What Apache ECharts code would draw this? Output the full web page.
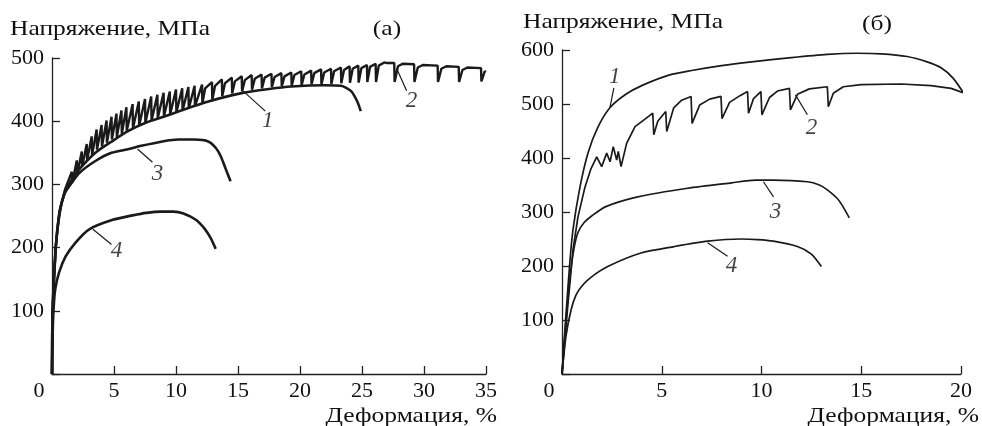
<!DOCTYPE html>
<html>
<head>
<meta charset="utf-8">
<script src="https://cdn.jsdelivr.net/npm/echarts@6/dist/echarts.min.js"></script>
<style>
html, body { margin: 0; background: #fff; }
#chart { width: 982px; height: 426px; }
</style>
</head>
<body>
<div id="chart"></div>
<script>
// (а) кривые: деформация, %  /  напряжение, МПа
var leftCurve1 = [[0,0],[0.05,100],[0.3,200],[0.6,255],[1.05,288],[1.6,308],[2.2,324],[3.5,350],[4.9,369],[6.2,385],[7.6,398],[9,407],[10.3,416],[12.4,430],[15.2,444],[17.5,451],[19.3,455],[22,457],[23.3,456],[24.1,448],[24.6,432],[24.9,416]];
var leftCurve2 = [[0,0],[0.05,100],[0.3,200],[0.6,258],[1.05,292],
	[1.6,320],[1.63,302],[2.0,338],[2.03,316],[2.4,352],[2.43,328],[2.8,364],[2.83,338],[3.2,376],[3.23,346],[3.6,387],[3.63,355],[4.0,394],[4.03,360],[4.4,401],[4.43,366],[4.8,407],[4.83,371],[5.2,412],[5.23,375],[5.6,417],[5.63,380],[6.0,422],[6.03,385],[6.5,427],[6.53,389],[7.0,431],[7.03,393],[7.5,435],[7.53,397],[8.0,439],[8.03,401],[8.5,442],[8.53,405],[9.0,445],[9.03,408],[9.5,447],[9.53,411],[10.0,450],[10.03,414],[10.5,452],[10.53,417],[11.0,454],[11.03,420],[11.5,456],[11.53,424],[12.1,458],[12.13,428],
	[12.35,452],[12.9,462],[12.93,434],[13.15,456],[13.7,466],[13.73,440],[13.95,460],[14.5,469],[14.53,444],[14.75,463],[15.3,471],[15.33,447],[15.55,465],[16.1,473],[16.13,450],[16.35,467],[16.9,474],[16.93,452],[17.15,469],[17.7,475],[17.73,454],[17.95,470],[18.5,476],[18.53,455],[18.75,471],[19.3,477],[19.33,456],[19.55,473],[20.1,479],[20.13,457],[20.35,474],[20.9,480],[20.93,458],[21.15,476],[21.7,482],[21.73,458],[21.95,477],[22.5,483],[22.53,459],[22.75,479],[23.3,485],[23.33,460],[23.55,481],[24.0,487],[24.03,461],[24.25,483],[24.7,488],[24.73,461],[24.95,484],[25.4,489],[25.43,462],[25.65,486],[26.1,491],[26.13,462],[26.35,488],[26.8,493],[27.0,492],
	[27.6,492],[27.63,462],[27.9,487],[28.3,491],[29.2,490],[29.23,462],[29.5,485],[29.9,489],[31.1,488],[31.13,462],[31.4,483],[31.8,487],[32.8,486],[32.83,462],[33.1,481],[33.5,485],[34.6,484],[34.63,463],[34.9,479],[35,478]];
var leftCurve3 = [[0,0],[0.05,100],[0.3,200],[0.6,252],[1.0,285],[1.5,300],[2.2,318],[3.5,337],[4.8,350],[6.2,356],[7.2,361],[8.9,368],[10.2,371],[11.5,371],[12.6,368],[13.2,358],[13.6,345],[14.0,325],[14.4,305]];
var leftCurve4 = [[0,0],[0.05,60],[0.12,100],[0.25,133],[0.56,160],[1.1,186],[1.9,208],[3.0,229],[4.9,244],[6.5,251],[7.6,255],[8.8,257],[9.8,257],[10.6,254],[11.6,244],[12.3,230],[12.8,215],[13.2,198]];

// (б) кривые
var rightCurve1 = [[0,0],[0.2,110],[0.4,210],[0.55,267],[0.9,346],[1.3,409],[1.8,457],[2.4,493],[3.2,518],[4.05,535],[5.4,554],[6.5,562],[8,571],[9.5,578],[11.5,586],[13.3,592],[14.8,594],[16,593],[17.3,588],[18.3,578],[19,567],[19.6,548],[20.1,522]];
var rightCurve2 = [[0,0],[0.3,130],[0.55,230],[0.8,291],[1.15,346],[1.45,380],[1.74,402],[1.99,384],[2.24,409],[2.41,393],[2.57,421],[2.74,396],[2.82,412],[2.96,384],[3.24,427],[3.66,458],[4.16,472],[4.55,483],[4.6,443],[4.8,468],[5.2,486],[5.25,449],[5.6,493],[6.0,507],[6.47,514],[6.52,464],[6.9,498],[7.4,509],[7.97,514],[8.02,473],[8.4,503],[8.9,515],[9.3,523],[9.35,483],[9.6,510],[9.97,523],[10.02,480],[10.4,512],[10.8,524],[11.4,529],[11.45,489],[11.8,518],[12.4,528],[13.3,532],[13.35,495],[13.6,520],[14.1,532],[15,536],[17,537],[18.5,534],[19.5,529],[20.1,521]];
var rightCurve3 = [[0,0],[0.2,100],[0.4,180],[0.6,232],[0.8,262],[1.1,280],[1.5,293],[2.2,310],[3.8,328],[6.3,344],[8.5,354],[9.7,359],[10.6,359],[12.3,356],[12.9,350],[13.3,341],[13.8,325],[14.1,309],[14.4,289]];
var rightCurve4 = [[0,0],[0.2,70],[0.45,118],[0.7,146],[1.0,163],[1.45,179],[2.29,199],[3.96,224],[5.63,236],[7.3,246],[8.97,250],[9.8,249],[10.6,246],[11.8,236],[12.5,222],[13.0,199]];

// номера кривых и выноски
var leftNames = ['1', '2', '3', '4'];
var leftNamePos = [[17.4,400],[29.0,432],[8.5,316],[5.2,194]];
var leftLeaders = [[[15.4,448],[17.2,416]], [[27.8,483],[28.6,448]], [[6.9,356],[8.1,335]], [[3.3,229],[4.8,205]]];
var rightNames = ['1', '2', '3', '4'];
var rightNamePos = [[2.65,550],[12.5,455],[10.7,300],[8.5,200]];
var rightLeaders = [[[2.4,493],[2.6,530]], [[11.7,517],[12.3,480]], [[10.1,356],[10.6,328]], [[7.3,243],[8.3,218]]];

var xMaxLeft = 35, xMaxRight = 20;
var yMaxLeft = 500, yMaxRight = 600;

var fontFam = '"Liberation Serif", "DejaVu Serif", serif';
var axisColor = '#222';

function makeX(idx, max) {
	return {
		type: 'value', gridIndex: idx, min: 0, max: max, interval: 5,
		axisLine: { lineStyle: { color: axisColor, width: 1.3 } },
		axisTick: { inside: true, length: 8, lineStyle: { color: axisColor, width: 1.3 } },
		splitLine: { show: false },
		axisLabel: {
			margin: 6, color: '#111', fontFamily: fontFam, fontSize: 22,
			formatter: function(v) { return v === 0 ? '{o|0}' : v; },
			rich: { o: { padding: [0, 26, 0, 0], fontFamily: fontFam, fontSize: 22, color: '#111' } }
		}
	};
}

function makeY(idx, max) {
	return {
		type: 'value', gridIndex: idx, min: 0, max: max, interval: 100,
		axisLine: { show: true, lineStyle: { color: axisColor, width: 1.3 } },
		axisTick: { show: true, inside: true, length: 8, lineStyle: { color: axisColor, width: 1.3 } },
		splitLine: { show: false },
		axisLabel: {
			margin: 8, color: '#111', fontFamily: fontFam, fontSize: 22,
			formatter: function(v) { return v === 0 ? '' : v; }
		}
	};
}

function curve(data, idx, w, smooth) {
	return {
		type: 'line', xAxisIndex: idx, yAxisIndex: idx, data: data,
		showSymbol: false, smooth: smooth, animation: false,
		lineStyle: { color: '#1a1a1a', width: w }
	};
}

var series = [
	curve(leftCurve1, 0, 2.6, 0.25),
	curve(leftCurve2, 0, 2.4, false),
	curve(leftCurve3, 0, 2.6, 0.25),
	curve(leftCurve4, 0, 2.6, 0.25),
	curve(rightCurve1, 1, 1.7, 0.25),
	curve(rightCurve2, 1, 1.7, false),
	curve(rightCurve3, 1, 1.7, 0.25),
	curve(rightCurve4, 1, 1.7, 0.25)
];

function addLabels(names, pos, leaders, idx) {
	for (var i = 0; i < leaders.length; i++) {
		series.push({
			type: 'line', xAxisIndex: idx, yAxisIndex: idx, data: leaders[i],
			showSymbol: false, animation: false,
			lineStyle: { color: '#1a1a1a', width: 1.2 }
		});
	}
	var pts = [];
	for (var j = 0; j < names.length; j++) {
		pts.push({ name: names[j], value: pos[j] });
	}
	series.push({
		type: 'scatter', xAxisIndex: idx, yAxisIndex: idx, data: pts,
		symbolSize: 1, itemStyle: { color: 'rgba(0,0,0,0)' }, animation: false,
		label: {
			show: true, position: 'inside', formatter: '{b}',
			fontFamily: fontFam, fontStyle: 'italic', fontSize: 23, color: '#111'
		}
	});
}
addLabels(leftNames, leftNamePos, leftLeaders, 0);
addLabels(rightNames, rightNamePos, rightLeaders, 1);

// подписи осей: шрифт оригинала шире, поэтому растягиваем по горизонтали
function gtext(s, x, y, align) {
	return {
		type: 'text', x: x, y: y, scaleX: 1.16,
		style: { text: s, textAlign: align, textVerticalAlign: 'middle', fontFamily: fontFam, fontSize: 22, fill: '#111' }
	};
}

var option = {
	backgroundColor: '#fff',
	animation: false,
	grid: [
		{ left: 52, top: 58, width: 434, height: 316 },
		{ left: 562, top: 50, width: 399, height: 324 }
	],
	xAxis: [makeX(0, xMaxLeft), makeX(1, xMaxRight)],
	yAxis: [makeY(0, yMaxLeft), makeY(1, yMaxRight)],
	graphic: [
		gtext('Напряжение, МПа', 10, 29, 'left'),
		gtext('(а)', 387, 29, 'center'),
		gtext('Деформация, %', 497, 416, 'right'),
		gtext('Напряжение, МПа', 523, 22, 'left'),
		gtext('(б)', 877, 24, 'center'),
		gtext('Деформация, %', 979, 416, 'right')
	],
	series: series
};

var chart = echarts.init(document.getElementById('chart'));
chart.setOption(option);
</script>
</body>
</html>
